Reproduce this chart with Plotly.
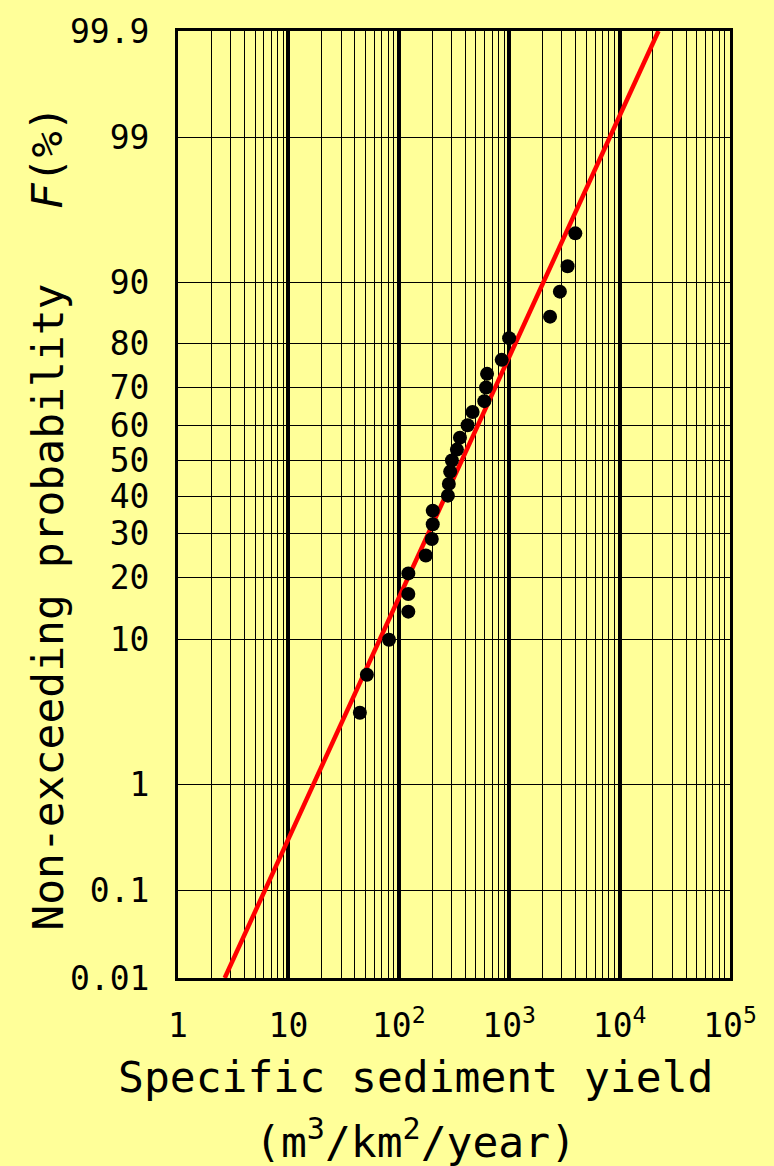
import plotly.graph_objects as go
from statistics import NormalDist

# ---- data ----
yield_values = [44.4, 51.4, 81.5, 122, 122, 122, 175.6, 199, 203, 203,
                278.5, 284, 292, 302.6, 336, 358, 419.8, 466, 595, 617,
                630, 855, 998, 2344, 2878, 3380, 3972]
nonexceed_pct = [3.5, 6.2, 9.9, 13.9, 16.9, 20.9, 24.8, 28.7, 32.4, 36.0,
                 40.1, 43.4, 46.9, 50.1, 53.2, 56.6, 60.1, 63.7, 66.6, 70.1,
                 73.4, 76.6, 81.1, 85.0, 88.8, 91.9, 94.9]

# fitted log-normal (log10) parameters
fit_mu_log10 = 2.569
fit_sigma_log10 = 0.577

prob_ticks = [0.01, 0.1, 1, 10, 20, 30, 40, 50, 60, 70, 80, 90, 99, 99.9]
prob_tick_labels = ["0.01", "0.1", "1", "10", "20", "30", "40", "50",
                    "60", "70", "80", "90", "99", "99.9"]
x_ticks = [1, 10, 100, 1000, 10000, 100000]
x_tick_labels = ["1", "10", "10<sup>2</sup>", "10<sup>3</sup>",
                 "10<sup>4</sup>", "10<sup>5</sup>"]
x_minor = [m * 10 ** k for k in range(5) for m in range(2, 10)]

nd = NormalDist()
def z(p):
    return nd.inv_cdf(p / 100.0)

z_min = z(prob_ticks[0])
z_max = z(prob_ticks[-1])

FONT = "DejaVu Sans Mono"
BG = "#FFFF99"

fig = go.Figure()

# fitted line over the full probability range
line_z = [z_min, z_max]
line_x = [10 ** (fit_mu_log10 + fit_sigma_log10 * zz) for zz in line_z]
fig.add_trace(go.Scatter(x=line_x, y=line_z, mode="lines",
                         line=dict(color="#FF0000", width=4.5),
                         hoverinfo="skip", showlegend=False))

fig.add_trace(go.Scatter(x=yield_values, y=[z(p) for p in nonexceed_pct],
                         mode="markers",
                         marker=dict(color="black", size=14),
                         showlegend=False))

fig.update_xaxes(
    type="log", range=[0, 5],
    tickmode="array", tickvals=x_ticks, ticktext=x_tick_labels,
    showgrid=True, gridcolor="black", gridwidth=4,
    minor=dict(tickmode="array", tickvals=x_minor, showgrid=True,
               gridcolor="black", gridwidth=1, ticks=""),
    showline=True, mirror=True, linecolor="black", linewidth=3,
    ticks="", ticklabelstandoff=16, zeroline=False,
    tickfont=dict(family=FONT, size=33, color="black"),
)
fig.update_yaxes(
    range=[z_min, z_max],
    tickmode="array", tickvals=[z(p) for p in prob_ticks],
    ticktext=prob_tick_labels,
    showgrid=True, gridcolor="black", gridwidth=1,
    showline=True, mirror=True, linecolor="black", linewidth=3,
    ticks="", ticklabelstandoff=19, zeroline=False,
    tickfont=dict(family=FONT, size=33, color="black"),
)

annots = [
    dict(text="Non-exceeding probability", x=-0.2355, y=0.391,
         textangle=-90, font=dict(family=FONT, size=43, color="black")),
    dict(text="<i>F</i>(%)", x=-0.237, y=0.867,
         textangle=-90, font=dict(family=FONT, size=43, color="black")),
    dict(text="Specific sediment yield", x=0.431, y=-0.105,
         font=dict(family=FONT, size=43, color="black")),
    dict(text="(m<sup>3</sup>/km<sup>2</sup>/year)", x=0.431, y=-0.170,
         font=dict(family=FONT, size=43, color="black")),
]
for a in annots:
    fig.add_annotation(xref="paper", yref="paper", showarrow=False,
                       xanchor="center", yanchor="middle", **a)

fig.update_layout(
    width=774, height=1166,
    margin=dict(l=178, r=44, t=25, b=188),
    paper_bgcolor=BG, plot_bgcolor=BG,
    showlegend=False,
)

fig.write_html(
    "out.html",
    config={"displayModeBar": False},
    post_script="document.body.style.margin='0';"
                "document.body.style.background='#FFFF99';"
                "document.body.style.overflow='hidden';",
)
